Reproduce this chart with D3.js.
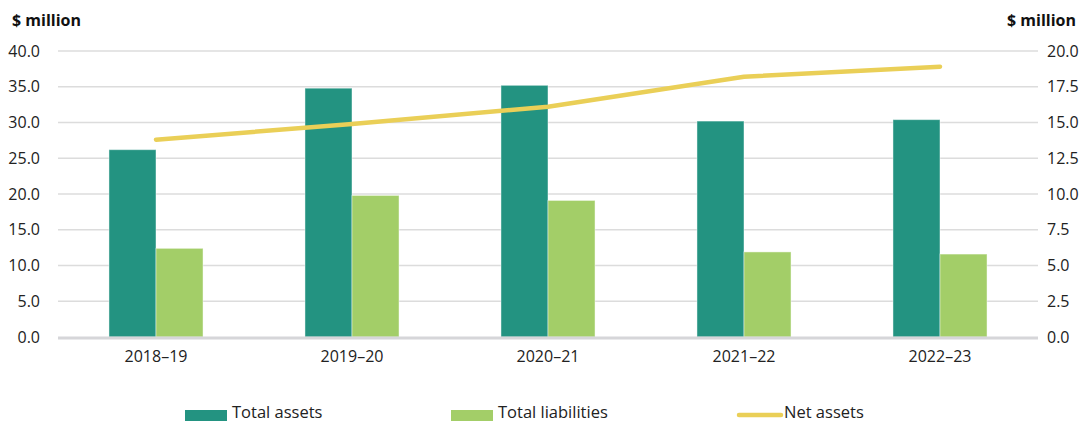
<!DOCTYPE html>
<html>
<head>
<meta charset="utf-8">
<script src="https://cdn.jsdelivr.net/npm/d3@7"></script>
<style>
  html, body { margin: 0; padding: 0; background: #fff; }
  svg { display: block; font-family: "Open Sans", "Noto Sans", sans-serif; }
</style>
</head>
<body>
<svg id="chart" width="1090" height="423"></svg>
<script>
// Financial position, $ million
const years = ["2018–19", "2019–20", "2020–21", "2021–22", "2022–23"];
const totalAssets = [26.2, 34.8, 35.2, 30.2, 30.4];
const totalLiabilities = [12.4, 19.8, 19.1, 11.9, 11.6];
const netAssets = [13.8, 14.9, 16.1, 18.2, 18.9];
const leftTicks = [0, 5, 10, 15, 20, 25, 30, 35, 40];
const rightTicks = [0, 2.5, 5, 7.5, 10, 12.5, 15, 17.5, 20];

const colors = { assets: "#239381", liabilities: "#A3CE68", net: "#EACF57" };

const svg = d3.select("#chart");
const margin = { left: 58, right: 52, top: 51, bottom: 86 };
const W = 1090, H = 423;
const x0 = margin.left, x1 = W - margin.right;
const yTop = margin.top, yBot = H - margin.bottom;

const x = d3.scaleBand().domain(years).range([x0, x1]).paddingInner(0).paddingOuter(0);
const yL = d3.scaleLinear().domain([0, 40]).range([yBot, yTop]);
const yR = d3.scaleLinear().domain([0, 20]).range([yBot, yTop]);

// gridlines
svg.append("g")
  .selectAll("line")
  .data(leftTicks.filter(d => d > 0))
  .join("line")
  .attr("x1", x0).attr("x2", x1)
  .attr("y1", d => yL(d)).attr("y2", d => yL(d))
  .attr("stroke", "#dcdcdc").attr("stroke-width", 1.3);

// left axis
const leftAxis = svg.append("g")
  .attr("transform", `translate(${x0},0)`)
  .call(d3.axisLeft(yL).tickValues(leftTicks).tickFormat(d3.format(".1f")).tickSize(0).tickPadding(18));
leftAxis.select(".domain").remove();
leftAxis.selectAll("text").attr("font-size", 16).attr("fill", "#222").attr("font-family", "Open Sans, sans-serif");

// right axis
const rightAxis = svg.append("g")
  .attr("transform", `translate(${x1},0)`)
  .call(d3.axisRight(yR).tickValues(rightTicks).tickFormat(d3.format(".1f")).tickSize(0).tickPadding(9));
rightAxis.select(".domain").remove();
rightAxis.selectAll("text").attr("font-size", 16).attr("fill", "#222").attr("font-family", "Open Sans, sans-serif");

// axis titles
svg.append("text").attr("x", 12).attr("y", 26)
  .attr("font-size", 16).attr("font-weight", "bold").attr("fill", "#111")
  .text("$ million");
svg.append("text").attr("x", 1076).attr("y", 26).attr("text-anchor", "end")
  .attr("font-size", 16).attr("font-weight", "bold").attr("fill", "#111")
  .text("$ million");

// bars
const inner = d3.scaleBand().domain(["assets", "liabilities"])
  .range([0, x.bandwidth()]).paddingOuter(1.084).paddingInner(0);

const barData = years.map((yr, i) => ({ yr, assets: totalAssets[i], liabilities: totalLiabilities[i] }));
const groups = svg.append("g").selectAll("g")
  .data(barData).join("g")
  .attr("transform", d => `translate(${x(d.yr)},0)`);

groups.selectAll("rect")
  .data(d => ["assets", "liabilities"].map(k => ({ k, v: d[k] })))
  .join("rect")
  .attr("x", d => inner(d.k))
  .attr("width", inner.bandwidth())
  .attr("y", d => yL(d.v))
  .attr("height", d => yL(0) - yL(d.v))
  .attr("fill", d => colors[d.k])
  .attr("stroke", "#ffffff").attr("stroke-opacity", 0.45).attr("stroke-width", 1);

// baseline
svg.append("line")
  .attr("x1", x0).attr("x2", x1)
  .attr("y1", yL(0) + 1).attr("y2", yL(0) + 1)
  .attr("stroke", "#d6d6d9").attr("stroke-width", 3);

// x axis labels
svg.append("g").selectAll("text")
  .data(years).join("text")
  .attr("x", d => x(d) + x.bandwidth() / 2)
  .attr("y", 362)
  .attr("text-anchor", "middle")
  .attr("font-size", 16).attr("fill", "#222")
  .text(d => d);

// net assets line
const line = d3.line()
  .x((d, i) => x(years[i]) + x.bandwidth() / 2)
  .y(d => yR(d));
svg.append("path")
  .datum(netAssets)
  .attr("d", line)
  .attr("fill", "none")
  .attr("stroke", colors.net)
  .attr("stroke-width", 4.5)
  .attr("stroke-linecap", "round")
  .attr("stroke-linejoin", "round");

// legend
const legend = svg.append("g");
const items = [
  { label: "Total assets", type: "rect", color: colors.assets, x: 185 },
  { label: "Total liabilities", type: "rect", color: colors.liabilities, x: 451 },
  { label: "Net assets", type: "line", color: colors.net, x: 737 }
];
items.forEach(it => {
  if (it.type === "rect") {
    legend.append("rect").attr("x", it.x).attr("y", 410).attr("width", 42).attr("height", 11).attr("fill", it.color);
  } else {
    legend.append("line").attr("x1", it.x + 2).attr("x2", it.x + 44).attr("y1", 415).attr("y2", 415)
      .attr("stroke", it.color).attr("stroke-width", 4.5).attr("stroke-linecap", "round");
  }
  legend.append("text").attr("x", it.x + 47).attr("y", 418)
    .attr("font-size", 16.5).attr("fill", "#222").text(it.label);
});
</script>
</body>
</html>
